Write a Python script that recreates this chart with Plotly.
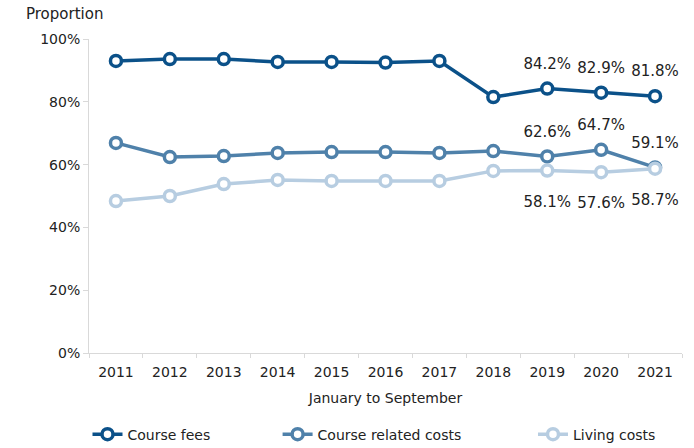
import plotly.graph_objects as go

years = ["2011", "2012", "2013", "2014", "2015", "2016", "2017", "2018", "2019", "2020", "2021"]
course_fees = [93.0, 93.6, 93.6, 92.7, 92.7, 92.5, 93.0, 81.5, 84.2, 82.9, 81.8]
course_related = [66.9, 62.4, 62.7, 63.7, 64.0, 64.0, 63.7, 64.3, 62.6, 64.7, 59.1]
living_costs = [48.4, 50.0, 53.8, 55.1, 54.8, 54.8, 54.8, 58.0, 58.1, 57.6, 58.7]
labelled_years = ["2019", "2020", "2021"]
series_names = ["Course fees", "Course related costs", "Living costs"]

colors = ["#0b5189", "#4f81aa", "#b7cde1"]
FONT = "Verdana, DejaVu Sans, sans-serif"
NBSP = "\u00a0"
legend_pad = [14, 15, 5]
label_pos = ["top center", "top center", "bottom center"]
label_offset_size = [24, 24, 38]


def labels(vals):
    return [f"{v:.1f}%" if y in labelled_years else "" for y, v in zip(years, vals)]


fig = go.Figure()
all_vals = [course_fees, course_related, living_costs]
for name, vals, col, pad in zip(series_names, all_vals, colors, legend_pad):
    fig.add_trace(go.Scatter(
        x=years, y=vals, name=name + NBSP * pad, mode="lines+markers",
        line=dict(color=col, width=3.5),
        marker=dict(symbol="circle", size=11, color="white", line=dict(color=col, width=3.5)),
        cliponaxis=False,
    ))
# value labels (invisible markers set the label offset)
for vals, pos, sz in zip(all_vals, label_pos, label_offset_size):
    fig.add_trace(go.Scatter(
        x=years, y=vals, mode="markers+text", showlegend=False, hoverinfo="skip",
        marker=dict(size=sz, opacity=0),
        text=labels(vals), textposition=pos,
        textfont=dict(family=FONT, size=15, color="#222222"),
        cliponaxis=False,
    ))

fig.update_layout(
    width=694, height=448,
    margin=dict(l=89, r=12, t=39, b=95, autoexpand=False),
    plot_bgcolor="white", paper_bgcolor="white",
    font=dict(family=FONT, size=14, color="#222222"),
    showlegend=True,
    legend=dict(orientation="h", x=0.5, xanchor="center", yref="container",
                y=0.03, yanchor="middle", font=dict(size=14)),
    xaxis=dict(
        type="category", range=[-0.5, 10.5], showgrid=False, automargin=False,
        showline=True, linecolor="#d9d9d9", linewidth=1,
        ticks="outside", tickson="boundaries", ticklen=4, tickcolor="#d9d9d9",
        tickfont=dict(size=14), ticklabelstandoff=6,
        title=dict(text="January to September", font=dict(size=14), standoff=14),
    ),
    yaxis=dict(
        range=[0, 100], dtick=20, ticksuffix="%", showgrid=False, zeroline=False,
        automargin=False,
        showline=True, linecolor="#d9d9d9", linewidth=1,
        ticks="outside", ticklen=5, tickcolor="#d9d9d9",
        tickfont=dict(size=14),
    ),
    annotations=[dict(text="Proportion", xref="paper", yref="paper",
                      x=(24 - 89) / 593, xanchor="left",
                      y=1 + 25 / 314, yanchor="middle",
                      showarrow=False, font=dict(size=15, color="#222222"))],
)

fig.write_html(
    "out.html",
    config={"displayModeBar": False},
    post_script="document.body.style.margin='0';document.body.style.overflow='hidden';",
)
